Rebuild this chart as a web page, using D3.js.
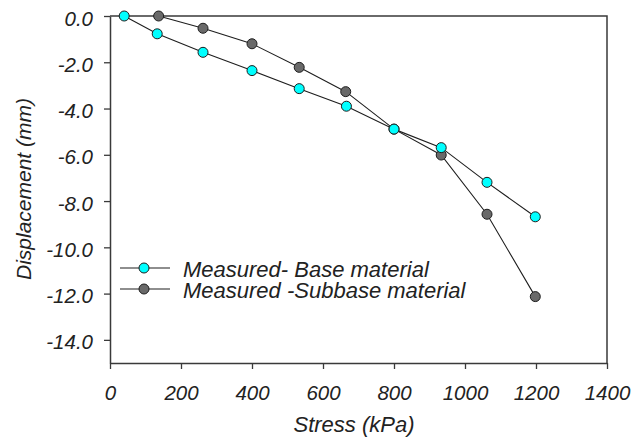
<!DOCTYPE html>
<html>
<head>
<meta charset="utf-8">
<script src="https://cdn.jsdelivr.net/npm/d3@7"></script>
<style>
  html, body { margin: 0; padding: 0; background: #fff; }
  svg { display: block; font-family: "Liberation Sans", Arial, sans-serif; }
</style>
</head>
<body>
<svg id="chart" width="634" height="443"></svg>
<script>
// Plate load test: displacement vs applied stress
const baseStress = [40, 133, 262, 400, 533, 666, 800, 933, 1062, 1198];
const baseDisp   = [0.0, -0.77, -1.57, -2.36, -3.14, -3.9, -4.89, -5.69, -7.19, -8.68];
const subStress  = [137, 262, 400, 533, 664, 800, 933, 1062, 1198];
const subDisp    = [0.0, -0.53, -1.2, -2.22, -3.27, -4.89, -6.01, -8.57, -12.13];
const xTicks = [0, 200, 400, 600, 800, 1000, 1200, 1400];
const yTicks = [0, -2, -4, -6, -8, -10, -12, -14];
const seriesNames = ["Measured- Base material", "Measured -Subbase material"];
const seriesFill = ["#00ffff", "#696969"];

const svg = d3.select("#chart");
const plotL = 110, plotR = 607, plotT = 16, plotB = 363;
const x = d3.scaleLinear().domain([0, 1400]).range([plotL, plotR]);
const y = d3.scaleLinear().domain([-15, 0]).range([plotB, plotT]);

const ink = "#222";
const frame = "#3a3a3a";
const fmtY = d => d.toFixed(1);   // plain hyphen-minus, one decimal

// frame: top and right edges
svg.append("path")
  .attr("d", `M${plotL},${plotT}H${plotR}V${plotB}`)
  .attr("fill", "none").attr("stroke", frame).attr("stroke-width", 1.5);

// x axis
const gx = svg.append("g").attr("transform", `translate(0,${plotB})`)
  .call(d3.axisBottom(x).tickValues(xTicks).tickSize(6).tickSizeOuter(0).tickPadding(12).tickFormat(d => String(d)));
// y axis
const gy = svg.append("g").attr("transform", `translate(${plotL},0)`)
  .call(d3.axisLeft(y).tickValues(yTicks).tickSize(6).tickSizeOuter(0).tickPadding(11).tickFormat(fmtY));

[gx, gy].forEach(g => {
  g.select(".domain").attr("stroke", frame).attr("stroke-width", 1.5);
  g.selectAll(".tick line").attr("stroke", frame).attr("stroke-width", 1.3);
  g.selectAll(".tick text")
    .attr("fill", ink)
    .style("font-size", "20.5px").style("font-style", "italic")
    .style("font-family", "'Liberation Sans', Arial, sans-serif");
});
gx.selectAll(".tick text").attr("dy", "0.93em");
gy.selectAll(".tick text").attr("dy", "0.44em");

// axis titles
svg.append("text")
  .attr("x", 354).attr("y", 432)
  .attr("text-anchor", "middle").style("font-size", "22px").style("font-style", "italic")
  .attr("fill", ink).text("Stress (kPa)");
svg.append("text")
  .attr("transform", "translate(31,189) rotate(-90)")
  .attr("text-anchor", "middle").style("font-size", "21px").style("font-style", "italic")
  .attr("fill", ink).text("Displacement (mm)");

const line = d3.line().x(d => x(d[0])).y(d => y(d[1]));
const subPts = subStress.map((s, i) => [s, subDisp[i]]);
const basePts = baseStress.map((s, i) => [s, baseDisp[i]]);

function drawSeries(pts, fill) {
  svg.append("path").datum(pts)
    .attr("d", line).attr("fill", "none").attr("stroke", "#1e1e1e").attr("stroke-width", 1.1);
  svg.append("g").selectAll("circle").data(pts).join("circle")
    .attr("cx", d => x(d[0])).attr("cy", d => y(d[1])).attr("r", 5)
    .attr("fill", fill).attr("stroke", "#1e1e1e").attr("stroke-width", 1);
}
drawSeries(subPts, seriesFill[1]);
drawSeries(basePts, seriesFill[0]);

// legend
const legend = svg.append("g");
seriesNames.forEach((name, i) => {
  const ly = 268 + i * 21;
  legend.append("line").attr("x1", 120).attr("x2", 170).attr("y1", ly).attr("y2", ly)
    .attr("stroke", "#1e1e1e").attr("stroke-width", 1.1);
  legend.append("circle").attr("cx", 144).attr("cy", ly).attr("r", 5)
    .attr("fill", seriesFill[i]).attr("stroke", "#1e1e1e").attr("stroke-width", 1);
  legend.append("text").attr("x", 183).attr("y", ly + 9)
    .style("font-size", "22px").style("font-style", "italic").attr("fill", ink).text(name);
});
</script>
</body>
</html>
